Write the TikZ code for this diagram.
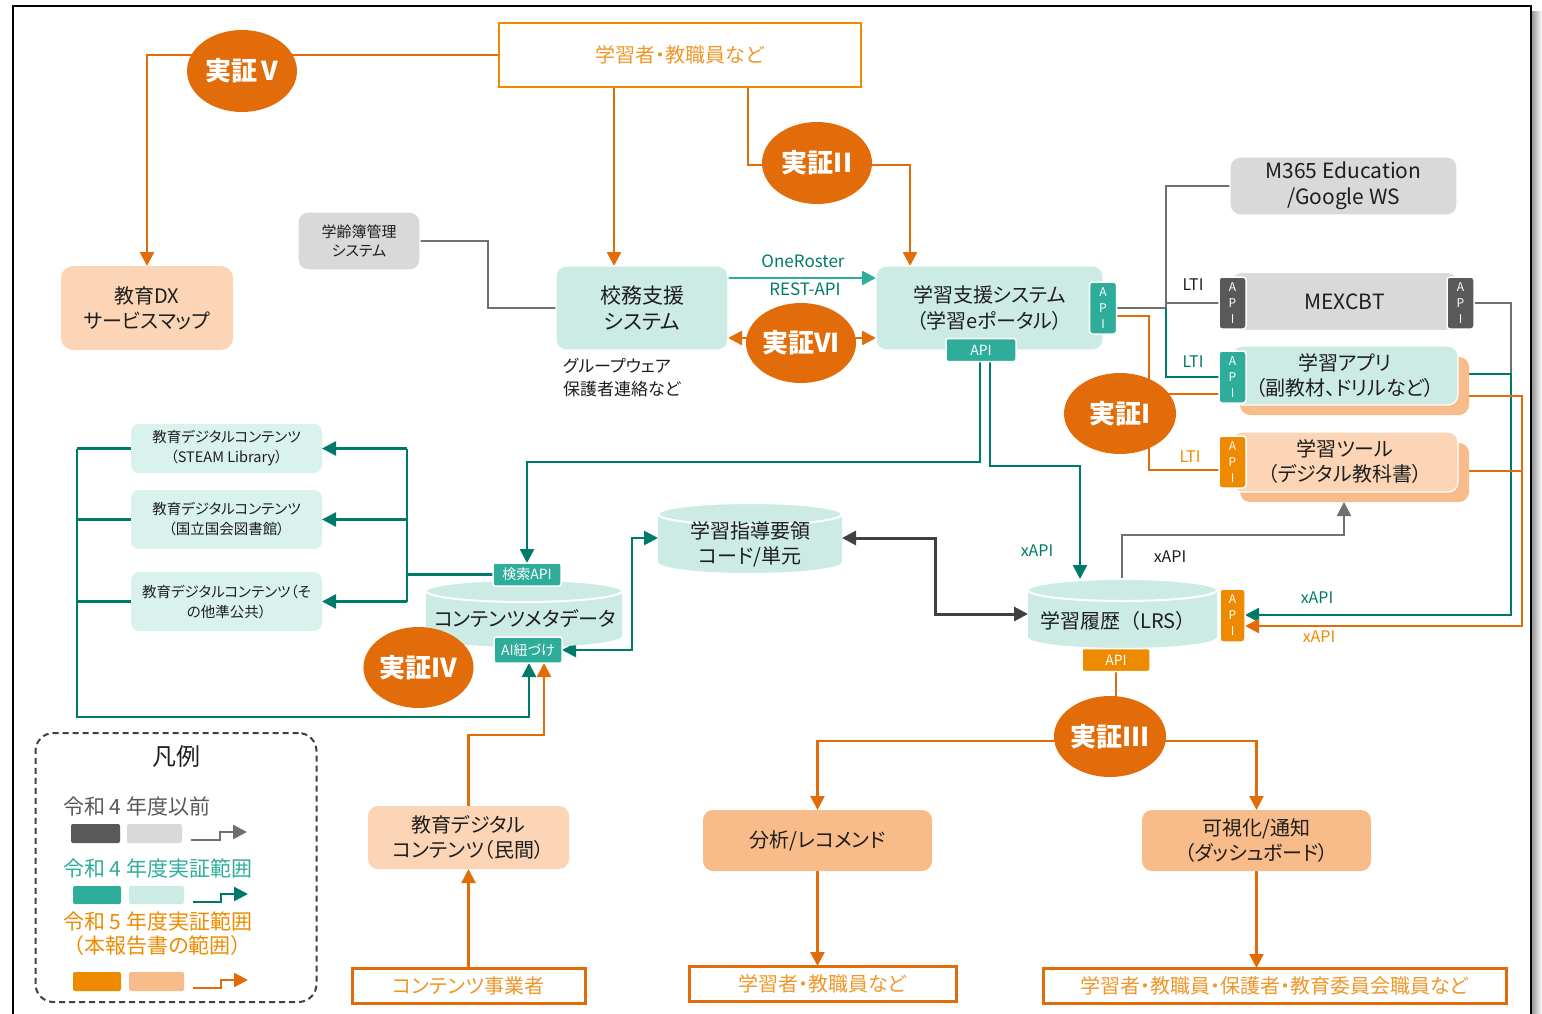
\documentclass[tikz,border=0pt]{standalone}
\usepackage{fontspec}
\setmainfont{Noto Sans CJK JP}[RawFeature=+palt]
\usetikzlibrary{arrows.meta,shapes.geometric,calc}

\definecolor{jorange}{RGB}{227,108,10}
\definecolor{aorange}{RGB}{238,138,0}
\definecolor{torange}{RGB}{240,150,40}
\definecolor{lorange}{RGB}{251,213,181}
\definecolor{morange}{RGB}{248,187,138}
\definecolor{lteal}{RGB}{205,235,229}
\definecolor{vlteal}{RGB}{218,242,238}
\definecolor{mteal}{RGB}{46,173,154}
\definecolor{dteal}{RGB}{0,122,104}
\definecolor{lgray}{RGB}{217,217,217}
\definecolor{dgray}{RGB}{89,89,89}
\definecolor{lineg}{RGB}{112,112,112}
\definecolor{darkg}{RGB}{64,64,64}
\definecolor{txt}{RGB}{30,30,30}

\pgfdeclarelayer{links}
\pgfsetlayers{links,main}

\newcommand\fsz[2]{\fontsize{#1}{#2}\selectfont}
% full-width spacing for brackets and digits
\newcommand\fullw{\addfontfeatures{RawFeature=-palt}}

% database drum: left x, right x, top y, bottom y, cap radius
\newcommand\dbcyl[5]{%
  \pgfmathsetmacro\cylrx{(#2-#1)/2}%
  \pgfmathsetmacro\cylcx{(#1+#2)/2}%
  \fill[lteal] (#1,#3+#5) -- (#1,#4-#5) arc[start angle=180,end angle=360,x radius=\cylrx pt,y radius=#5pt] -- (#2,#3+#5) -- cycle;
  \filldraw[fill=lteal,draw=white,line width=2pt] (\cylcx,#3+#5) ellipse[x radius=\cylrx pt,y radius=#5pt];
}

\tikzset{
  every node/.style={inner sep=0pt,outer sep=0pt,text=txt},
  >={Triangle[length=14pt,width=14pt]},
  box/.style={rounded corners=10pt,align=center},
  tealbox/.style={box,fill=lteal,draw=white,line width=1.2pt},
  graybox/.style={box,fill=lgray,draw=white,line width=1.2pt},
  userbox/.style={draw=jorange,line width=3pt,text=torange,font=\fsz{20}{24}},
  apitag/.style={draw=white,line width=1.5pt,rounded corners=3pt,text=white,align=center,font=\fsz{12}{16}},
  flattag/.style={draw=white,line width=1.5pt,rounded corners=2pt,text=white,font=\fsz{14}{14}},
  ev/.style={ellipse,fill=jorange,text=white,font=\bfseries\fsz{26}{28}},
  olink/.style={draw=jorange,line width=2.5pt},
  tlink/.style={draw=dteal,line width=2.5pt},
  glink/.style={draw=lineg,line width=2pt},
  lbl/.style={font=\fsz{16}{16}},
  legtext/.style={anchor=west,font=\fullw\fsz{21}{22}},
}

\begin{document}
\begin{tikzpicture}[x=1pt,y=-1pt]
\useasboundingbox (0,0) rectangle (1542,1014);

% page frame with its shadow
\shade[left color=black!40,right color=white] (1532,12) rectangle (1542,1014);
\draw[black,line width=1.6pt] (13,1014) -- (13,6) -- (1531,6) -- (1531,1014);

% ---------- top row ----------
\node[draw=aorange,line width=2.5pt,minimum width=362pt,minimum height=64pt,text=torange,font=\fsz{20}{24}] (topUsers) at (680,55) {学習者・教職員など};
\node[box,fill=lorange,minimum width=172pt,minimum height=84pt,rounded corners=12pt,font=\fsz{20}{25}] (dxmap) at (147,308) {教育DX\\サービスマップ};
\node[graybox,minimum width=122pt,minimum height=58pt,font=\fsz{15}{19}] (gakurei) at (359,241) {学齢簿管理\\システム};
\node[tealbox,minimum width=172pt,minimum height=84pt,font=\fsz{21}{26}] (koumu) at (642,308) {校務支援\\システム};
\node[anchor=west,align=left,font=\fsz{17}{23}] (groupware) at (563,378) {グループウェア\\保護者連絡など};
\node[tealbox,minimum width=227pt,minimum height=84pt,font=\fsz{20}{26}] (gakushu) at (989.5,308) {学習支援システム\\（学習eポータル）};
\node[apitag,fill=mteal,minimum width=27pt,minimum height=52pt] (gsApiR) at (1103,308) {A\\P\\I};
\node[flattag,fill=mteal,minimum width=70pt,minimum height=23pt] (gsApiB) at (981,350) {API};

% ---------- tools on the right ----------
\node[graybox,minimum width=227pt,minimum height=58pt,font=\fsz{21}{26}] (m365) at (1343.5,186) {M365 Education\\/Google WS};
\node[graybox,minimum width=226pt,minimum height=58pt,font=\fsz{21}{26}] (mexcbt) at (1344.5,301.5) {MEXCBT};
\node[apitag,fill=dgray,minimum width=27pt,minimum height=52pt] (mexApiL) at (1232.5,303) {A\\P\\I};
\node[apitag,fill=dgray,minimum width=27pt,minimum height=52pt] (mexApiR) at (1460.5,303) {A\\P\\I};

\node[box,fill=morange,minimum width=229pt,minimum height=58pt] (appSh) at (1354.5,386) {};
\node[tealbox,minimum width=226pt,minimum height=59pt,font=\fsz{20}{25}] (app) at (1345,375.5) {学習アプリ\\（副教材、ドリルなど）};
\node[apitag,fill=mteal,minimum width=27pt,minimum height=52pt] (appApi) at (1232.5,377) {A\\P\\I};

\node[box,fill=morange,minimum width=229pt,minimum height=59pt] (toolSh) at (1354.5,472.5) {};
\node[box,fill=lorange,draw=white,line width=1.2pt,minimum width=226pt,minimum height=60pt,font=\fsz{20}{25}] (tool) at (1345,462) {学習ツール\\（デジタル教科書）};
\node[apitag,fill=aorange,minimum width=27pt,minimum height=52pt] (toolApi) at (1232.5,462) {A\\P\\I};

% ---------- data stores ----------
\dbcyl{1028}{1217}{579}{648}{11}
\node[minimum width=189pt,minimum height=69pt] (lrs) at (1122.5,613.5) {};
\node[font=\fullw\fsz{20}{24}] (lrsText) at (1118,621) {学習履歴（LRS）};
\node[apitag,fill=aorange,minimum width=25pt,minimum height=53pt] (lrsApiR) at (1232.5,615.5) {A\\P\\I};
\node[flattag,fill=aorange,minimum width=68pt,minimum height=23pt] (lrsApiB) at (1116,660) {API};

\dbcyl{658}{842}{503}{573}{11}
\node[minimum width=184pt,minimum height=70pt] (shidou) at (750,538) {};
\node[align=center,font=\fsz{20}{25}] (shidouText) at (750,544) {学習指導要領\\コード/単元};

\dbcyl{426}{622}{580}{647}{11}
\node[minimum width=196pt,minimum height=67pt] (meta) at (524,613.5) {};
\node[font=\fsz{20}{24}] (metaText) at (525,619) {コンテンツメタデータ};
\node[flattag,fill=mteal,minimum width=68pt,minimum height=23pt] (kensaku) at (527,574.5) {検索API};
\node[flattag,fill=mteal,minimum width=68pt,minimum height=26pt] (aiTag) at (528,650) {AI紐づけ};

% ---------- content catalogues ----------
\node[box,fill=vlteal,rounded corners=8pt,minimum width=191pt,minimum height=49pt,font=\fsz{14.5}{20}] (c1) at (226.5,448.5) {教育デジタルコンテンツ\\（STEAM Library）};
\node[box,fill=vlteal,rounded corners=8pt,minimum width=191pt,minimum height=59pt,font=\fsz{14.5}{20}] (c2) at (226.5,519.5) {教育デジタルコンテンツ\\（国立国会図書館）};
\node[box,fill=vlteal,rounded corners=8pt,minimum width=191pt,minimum height=59pt,font=\fsz{14.5}{20}] (c3) at (226.5,601.5) {教育デジタルコンテンツ（そ\\の他準公共）};

\node[box,fill=lorange,minimum width=201pt,minimum height=63pt,font=\fsz{20}{25}] (minkan) at (468.5,837.5) {教育デジタル\\コンテンツ（民間）};
\node[userbox,minimum width=233pt,minimum height=35pt] (jigyo) at (468.5,985.5) {コンテンツ事業者};

% ---------- analytics ----------
\node[box,fill=morange,minimum width=229pt,minimum height=61pt,font=\fsz{20}{25}] (bunseki) at (817.5,840.5) {分析/レコメンド};
\node[box,fill=morange,minimum width=229pt,minimum height=61pt,font=\fsz{20}{25}] (kashika) at (1256.5,840.5) {可視化/通知\\（ダッシュボード）};
\node[userbox,minimum width=267pt,minimum height=35pt] (users2) at (822.5,983.5) {学習者・教職員など};
\node[userbox,minimum width=463pt,minimum height=35pt] (users3) at (1274.5,985.5) {学習者・教職員・保護者・教育委員会職員など};

% ---------- trial markers ----------
\node[ev,minimum width=110pt,minimum height=82pt] (ev5) at (242,71) {実証\,V};
\node[ev,minimum width=110pt,minimum height=82pt] (ev2) at (817,163) {実証II};
\node[ev,minimum width=96pt,minimum height=80pt] (ev6) at (801,343) {実証VI};
\node[ev,minimum width=112pt,minimum height=81pt] (ev1) at (1120,413.5) {実証I};
\node[ev,minimum width=109pt,minimum height=81pt] (ev4) at (418.5,667.5) {実証IV};
\node[ev,minimum width=110pt,minimum height=81pt] (ev3) at (1110,736.5) {実証III};

% ---------- connector labels ----------
\node[lbl,text=dteal,font=\fsz{17}{17}] (lOne) at (803,261) {OneRoster};
\node[lbl,text=dteal,font=\fsz{17}{17}] (lRest) at (805,289) {REST-API};
\node[lbl] (lLti1) at (1193,285) {LTI};
\node[lbl,text=dteal] (lLti2) at (1193,362) {LTI};
\node[lbl,text=aorange] (lLti3) at (1190,457) {LTI};
\node[lbl,text=dteal] (lx1) at (1037,551) {xAPI};
\node[lbl] (lx2) at (1170,557) {xAPI};
\node[lbl,text=dteal] (lx3) at (1317,598) {xAPI};
\node[lbl,text=aorange] (lx4) at (1319,637) {xAPI};

% ---------- legend ----------
\node[draw=darkg,dash pattern=on 6pt off 4pt,line width=2pt,rounded corners=18pt,minimum width=281pt,minimum height=269pt] (legend) at (176,867.5) {};
\node[font=\fsz{24}{24}] (legTitle) at (176,756) {凡例};
\node[legtext,text=dgray] (leg1) at (63,806) {令和 4 年度以前};
\fill[dgray,rounded corners=2pt] (71,824) rectangle (120,843);
\fill[lgray,rounded corners=2pt] (127,824) rectangle (182,843);
\draw[lineg,line width=2.5pt,->] (191,840) -- (220,840) -- (220,832) -- (247,832);
\node[legtext,text=mteal] (leg2) at (63,868) {令和 4 年度実証範囲};
\fill[mteal,rounded corners=2pt] (73,886) rectangle (121,904);
\fill[lteal,rounded corners=2pt] (129,886) rectangle (184,904);
\draw[dteal,line width=2.5pt,->] (193,902) -- (221,902) -- (221,894) -- (248,894);
\node[legtext,text=aorange] (leg3) at (63,921) {令和 5 年度実証範囲};
\node[legtext,text=aorange] (leg4) at (63,946) {（本報告書の範囲）};
\fill[aorange,rounded corners=2pt] (73,972) rectangle (121,991);
\fill[morange,rounded corners=2pt] (129,972) rectangle (184,991);
\draw[jorange,line width=2.5pt,->] (193,988) -- (221,988) -- (221,980) -- (248,980);

% ---------- connectors ----------
\begin{pgfonlayer}{links}
  % users and trials at the top
  \draw[olink,->] (topUsers.west) -| (dxmap.north);
  \draw[olink,->] (614,0 |- topUsers.south) -- (614,0 |- koumu.north);
  \draw[olink,->] (748,0 |- topUsers.south) |- (910,165) -- (910,0 |- gakushu.north);
  \draw[glink] (gakurei.east) -- (488,0 |- gakurei.east) |- (koumu.west);
  \draw[draw=mteal,line width=2.5pt,->] (koumu.east |- 0,278) -- (gakushu.west |- 0,278);
  \draw[olink,<->] (koumu.east |- 0,338) -- (gakushu.west |- 0,338);

  % learning portal to tools
  \draw[glink] (gsApiR.east) -- (1166,0 |- gsApiR.east) |- (m365.west);
  \draw[glink] (1166,0 |- mexApiL.west) -- (mexApiL.west);
  \draw[tlink,line width=2pt] (1166,0 |- gsApiR.east) |- (appApi.west);
  \draw[olink,line width=2pt] (gsApiR.east |- 0,316) -| (1149,470) -- (toolApi.west |- 0,470);
  \draw[olink,line width=2pt] (1149,394) -- (appApi.west |- 0,394);

  % tools back to the LRS
  \draw[glink] (mexApiR.east) -- (1511,0 |- mexApiR.east) -- (1511,374);
  \draw[tlink,->] (app.east |- 0,374) -- (1511,374) |- (lrsApiR.east |- 0,615);
  \draw[olink,->] (appSh.east |- 0,396) -- (1522,396) |- (lrsApiR.east |- 0,626);
  \draw[olink] (tool.east |- 0,471) -- (1522,471);

  % portal API down to search and LRS
  \draw[tlink,->] (980,0 |- gsApiB.south) |- (kensaku.north |- 0,462) -- (kensaku.north);
  \draw[tlink,->] (990,0 |- gsApiB.south) |- (1080,466) -- (1080,0 |- lrs.north);
  \draw[draw=lineg,line width=2.5pt,->] (1122,0 |- lrs.north) |- (1344,535) -- (1344,0 |- toolSh.south);
  \draw[draw=darkg,line width=3pt,<->] (shidou.east) -- (935,0 |- shidou.east) |- (lrs.west |- 0,614);
  \draw[tlink,<->] (aiTag.east) -- (632,0 |- aiTag.east) |- (shidou.west);

  % search API to the content catalogues and back
  \draw[tlink] (kensaku.west) -- (407,0 |- kensaku.west);
  \draw[tlink] (407,0 |- c1.east) -- (407,0 |- c3.east);
  \draw[tlink,->] (407,0 |- c1.east) -- (c1.east);
  \draw[tlink,->] (407,0 |- c2.east) -- (c2.east);
  \draw[tlink,->] (407,0 |- c3.east) -- (c3.east);
  \draw[tlink] (c1.west) -- (77,0 |- c1.west);
  \draw[tlink] (c2.west) -- (77,0 |- c2.west);
  \draw[tlink] (c3.west) -- (77,0 |- c3.west);
  \draw[tlink,->] (77,0 |- c1.west) |- (529,717) -- (529,0 |- aiTag.south);
  \draw[olink,->] (minkan.north) |- (544,735) -- (544,0 |- aiTag.south);
  \draw[olink,->] (jigyo.north) -- (minkan.south);

  % analytics
  \draw[olink] (lrsApiB.south) -- (lrsApiB.south |- ev3.center);
  \draw[olink,->] (ev3.center |- 0,741) -| (bunseki.north);
  \draw[olink,->] (ev3.center |- 0,741) -| (kashika.north);
  \draw[olink,->] (bunseki.south) -- (bunseki.south |- users2.north);
  \draw[olink,->] (kashika.south) -- (kashika.south |- users3.north);
\end{pgfonlayer}
\end{tikzpicture}
\end{document}
